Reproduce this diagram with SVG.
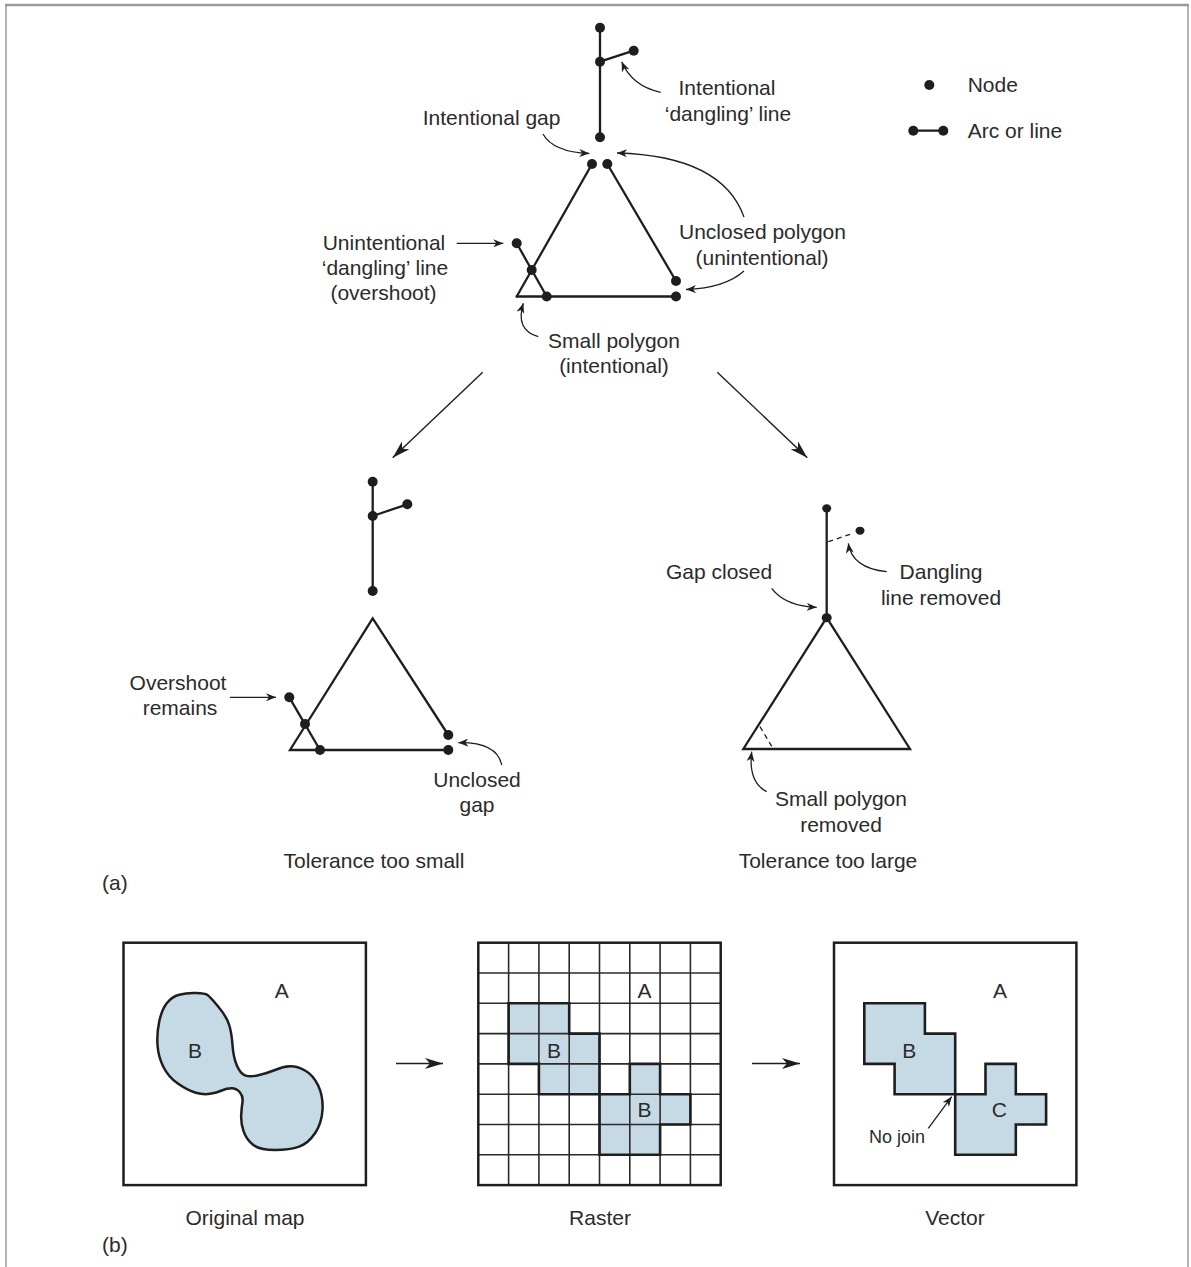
<svg xmlns="http://www.w3.org/2000/svg" width="1191" height="1267" viewBox="0 0 1191 1267">
<defs>
<style>
text{font-family:"Liberation Sans",Arial,sans-serif;font-size:21px;fill:#2b2b2b}
.m{text-anchor:middle}
.ln{stroke:#1e1e1e;stroke-width:2.3;fill:none;stroke-linecap:round}
.nd{fill:#1e1e1e}
.an{stroke:#1e1e1e;stroke-width:1.3;fill:none;marker-end:url(#ah)}
.big{stroke:#1e1e1e;stroke-width:1.4;fill:none;marker-end:url(#ahL)}
.dash{stroke:#1e1e1e;stroke-width:1.3;fill:none;stroke-dasharray:5 4}
.box{stroke:#1e1e1e;stroke-width:2.5;fill:none}
.sh{fill:#c6dae5}
.ol{stroke:#1e1e1e;stroke-width:2.6;fill:none;stroke-linejoin:miter}
.grid{stroke:#2a2a2a;stroke-width:1.6}
.frame{stroke:#9a9a9a;fill:none}
</style>
<marker id="ah" viewBox="0 0 10 8" markerWidth="10" markerHeight="8" refX="10" refY="4" orient="auto" markerUnits="userSpaceOnUse">
<path d="M0,0 L10,4 L0,8 L3,4 z" fill="#1e1e1e"/>
</marker>
<marker id="ahL" viewBox="0 0 18 11" markerWidth="18" markerHeight="11" refX="18" refY="5.5" orient="auto" markerUnits="userSpaceOnUse">
<path d="M0,0 L18,5.5 L0,11 L5,5.5 z" fill="#1e1e1e"/>
</marker>
</defs>
<rect width="1191" height="1267" fill="#ffffff"/>
<g id="frame">
<line class="frame" x1="5" y1="5" x2="1189" y2="5" stroke-width="2.5"/>
<line class="frame" x1="6" y1="5" x2="6" y2="1267" stroke-width="1.5"/>
<line class="frame" x1="1188" y1="5" x2="1188" y2="1267" stroke-width="1.5"/>
</g>

<g id="legend">
<circle class="nd" cx="929.3" cy="85" r="5"/>
<text x="967.7" y="92">Node</text>
<line class="ln" x1="913.3" y1="130.7" x2="943.3" y2="130.7" stroke-width="2"/>
<circle class="nd" cx="913.3" cy="130.7" r="5"/>
<circle class="nd" cx="943.3" cy="130.7" r="5"/>
<text x="967.7" y="138">Arc or line</text>
</g>

<g id="network-original">
<line class="ln" x1="600" y1="27.7" x2="600" y2="137.3"/>
<line class="ln" x1="600" y1="61.7" x2="633.7" y2="50.7"/>
<line class="ln" x1="592" y1="164" x2="516.7" y2="296.5"/>
<line class="ln" x1="516.7" y1="296.5" x2="676" y2="296.5"/>
<line class="ln" x1="607.3" y1="164" x2="676" y2="281"/>
<line class="ln" x1="516.7" y1="243.3" x2="546.7" y2="296.5"/>
<circle class="nd" cx="600" cy="27.7" r="5"/>
<circle class="nd" cx="600" cy="61.7" r="5"/>
<circle class="nd" cx="633.7" cy="50.7" r="5"/>
<circle class="nd" cx="600" cy="137.3" r="5"/>
<circle class="nd" cx="592" cy="164" r="5"/>
<circle class="nd" cx="607.3" cy="164" r="5"/>
<circle class="nd" cx="516.7" cy="243.3" r="5"/>
<circle class="nd" cx="531.7" cy="270" r="5"/>
<circle class="nd" cx="546.7" cy="296.5" r="5"/>
<circle class="nd" cx="676" cy="281" r="5"/>
<circle class="nd" cx="676" cy="296.5" r="5"/>
</g>

<g id="labels-original">
<text x="422.7" y="125">Intentional gap</text>
<text class="m" x="727" y="95">Intentional</text>
<text class="m" x="728" y="121">‘dangling’ line</text>
<text class="m" x="762.5" y="239">Unclosed polygon</text>
<text class="m" x="762" y="265">(unintentional)</text>
<text class="m" x="384" y="250">Unintentional</text>
<text class="m" x="385" y="275">‘dangling’ line</text>
<text class="m" x="383.5" y="300">(overshoot)</text>
<text class="m" x="614" y="348">Small polygon</text>
<text class="m" x="614" y="373">(intentional)</text>
</g>

<g id="network-small">
<line class="ln" x1="372.7" y1="481.7" x2="372.7" y2="591"/>
<line class="ln" x1="372.7" y1="516" x2="407.3" y2="504.3"/>
<path class="ln" d="M448.3,750 L290,750 L372.7,618.3 L448.3,735" stroke-linejoin="miter"/>
<line class="ln" x1="289.3" y1="697.3" x2="320" y2="750"/>
<circle class="nd" cx="372.7" cy="481.7" r="5"/>
<circle class="nd" cx="372.7" cy="516" r="5"/>
<circle class="nd" cx="407.3" cy="504.3" r="5"/>
<circle class="nd" cx="372.7" cy="591" r="5"/>
<circle class="nd" cx="289.3" cy="697.3" r="5"/>
<circle class="nd" cx="305" cy="724" r="5"/>
<circle class="nd" cx="320" cy="750" r="5"/>
<circle class="nd" cx="448.3" cy="735" r="5"/>
<circle class="nd" cx="448.3" cy="750" r="5"/>
</g>

<g id="labels-small">
<text class="m" x="178" y="690">Overshoot</text>
<text class="m" x="180" y="715">remains</text>
<text class="m" x="477" y="787">Unclosed</text>
<text class="m" x="477" y="812">gap</text>
<text class="m" x="374" y="868">Tolerance too small</text>
</g>

<g id="network-large">
<line class="ln" x1="826.7" y1="508.3" x2="826.7" y2="617.7"/>
<line class="dash" x1="828.3" y1="541.7" x2="853.3" y2="533.3"/>
<path class="ln" d="M826.7,617.7 L743.3,749 L910,749 Z" stroke-linejoin="miter"/>
<line class="dash" x1="760" y1="726.7" x2="773.3" y2="749"/>
<ellipse class="nd" cx="826.7" cy="508.3" rx="4.5" ry="4"/>
<ellipse class="nd" cx="860" cy="530.7" rx="4.5" ry="4"/>
<ellipse class="nd" cx="826.7" cy="617.7" rx="5" ry="4.5"/>
</g>

<g id="labels-large">
<text x="666" y="579">Gap closed</text>
<text class="m" x="941" y="579">Dangling</text>
<text class="m" x="941" y="605">line removed</text>
<text class="m" x="841" y="806">Small polygon</text>
<text class="m" x="841" y="832">removed</text>
<text class="m" x="828" y="868">Tolerance too large</text>
</g>

<text id="label-a" x="102" y="890">(a)</text>

<g id="map-original">
<path class="sh" d="M179.2,994.7 Q186.7,992.7 195.85,993 Q205,993.3 207.5,995 Q210,996.7 218.35,1006.7 Q226.7,1016.7 229.2,1025 Q231.7,1033.3 232.5,1045 Q233.3,1056.7 236.65,1065 Q240,1073.3 245,1075.3 Q250,1077.3 258.35,1075.3 Q266.7,1073.3 275,1070 Q283.3,1066.7 290,1066.35 Q296.7,1066 305,1070.5 Q313.3,1075 318.3,1085.85 Q323.3,1096.7 322.5,1110 Q321.7,1123.3 315,1133.3 Q308.3,1143.3 299.15,1146.65 Q290,1150 275,1150 Q260,1150 253.35,1145 Q246.7,1140 243.7,1131.65 Q240.7,1123.3 241.2,1115 Q241.7,1106.7 242.5,1101.7 Q243.3,1096.7 240,1092.5 Q236.7,1088.3 231.7,1088.3 Q226.7,1088.3 221.7,1090.5 Q216.7,1092.7 210,1093.85 Q203.3,1095 195,1092.5 Q186.7,1090 177.5,1083.35 Q168.3,1076.7 163.3,1066.7 Q158.3,1056.7 157.5,1045 Q156.7,1033.3 159.2,1021.65 Q161.7,1010 166.7,1003.35 Q171.7,996.7 179.2,994.7 Z" stroke="#1e1e1e" stroke-width="2.5"/>
<rect class="box" x="123.5" y="942.7" width="242.4" height="242.4"/>
<text class="m" x="281.7" y="997.5">A</text>
<text class="m" x="195" y="1057.5">B</text>
<text class="m" x="245" y="1225">Original map</text>
</g>

<g id="map-raster">
<polygon class="sh" points="508.6,1003.3 569.2,1003.3 569.2,1033.6 599.5,1033.6 599.5,1094.2 538.9,1094.2 538.9,1063.9 508.6,1063.9"/>
<polygon class="sh" points="629.8,1063.9 660.1,1063.9 660.1,1094.2 690.4,1094.2 690.4,1124.5 660.1,1124.5 660.1,1154.8 599.5,1154.8 599.5,1094.2 629.8,1094.2"/>
<g class="grid">
<line x1="508.6" y1="942.7" x2="508.6" y2="1185.1"/>
<line x1="538.9" y1="942.7" x2="538.9" y2="1185.1"/>
<line x1="569.2" y1="942.7" x2="569.2" y2="1185.1"/>
<line x1="599.5" y1="942.7" x2="599.5" y2="1185.1"/>
<line x1="629.8" y1="942.7" x2="629.8" y2="1185.1"/>
<line x1="660.1" y1="942.7" x2="660.1" y2="1185.1"/>
<line x1="690.4" y1="942.7" x2="690.4" y2="1185.1"/>
<line x1="478.3" y1="973" x2="720.7" y2="973"/>
<line x1="478.3" y1="1003.3" x2="720.7" y2="1003.3"/>
<line x1="478.3" y1="1033.6" x2="720.7" y2="1033.6"/>
<line x1="478.3" y1="1063.9" x2="720.7" y2="1063.9"/>
<line x1="478.3" y1="1094.2" x2="720.7" y2="1094.2"/>
<line x1="478.3" y1="1124.5" x2="720.7" y2="1124.5"/>
<line x1="478.3" y1="1154.8" x2="720.7" y2="1154.8"/>
</g>
<polygon class="ol" points="508.6,1003.3 569.2,1003.3 569.2,1033.6 599.5,1033.6 599.5,1094.2 538.9,1094.2 538.9,1063.9 508.6,1063.9"/>
<polygon class="ol" points="629.8,1063.9 660.1,1063.9 660.1,1094.2 690.4,1094.2 690.4,1124.5 660.1,1124.5 660.1,1154.8 599.5,1154.8 599.5,1094.2 629.8,1094.2"/>
<rect class="box" x="478.3" y="942.7" width="242.4" height="242.4"/>
<text class="m" x="644.5" y="997.5">A</text>
<text class="m" x="554" y="1057.5">B</text>
<text class="m" x="644.5" y="1117">B</text>
<text class="m" x="600" y="1225">Raster</text>
</g>

<g id="map-vector">
<polygon class="sh" points="864.3,1003.3 924.9,1003.3 924.9,1033.6 955.2,1033.6 955.2,1094.2 894.6,1094.2 894.6,1063.9 864.3,1063.9"/>
<polygon class="sh" points="985.5,1063.9 1015.8,1063.9 1015.8,1094.2 1046.1,1094.2 1046.1,1124.5 1015.8,1124.5 1015.8,1154.8 955.2,1154.8 955.2,1094.2 985.5,1094.2"/>
<polygon class="ol" points="864.3,1003.3 924.9,1003.3 924.9,1033.6 955.2,1033.6 955.2,1094.2 894.6,1094.2 894.6,1063.9 864.3,1063.9"/>
<polygon class="ol" points="985.5,1063.9 1015.8,1063.9 1015.8,1094.2 1046.1,1094.2 1046.1,1124.5 1015.8,1124.5 1015.8,1154.8 955.2,1154.8 955.2,1094.2 985.5,1094.2"/>
<rect class="box" x="834" y="942.7" width="242.4" height="242.4"/>
<text class="m" x="1000" y="997.5">A</text>
<text class="m" x="909.3" y="1057.5">B</text>
<text class="m" x="999.3" y="1117">C</text>
<text x="869" y="1143" style="font-size:18px">No join</text>
<text class="m" x="955" y="1225">Vector</text>
</g>

<text id="label-b" x="102" y="1252">(b)</text>

<g id="connectors">
<path class="an" d="M543,134 Q553,152 589.3,153.5"/>
<path class="an" d="M660.7,92.3 Q632,86 621.7,61.7"/>
<path class="an" d="M744,217 C730,178 690,155 617,153"/>
<path class="an" d="M744,271 Q725,288 686,289.5"/>
<path class="an" d="M456.7,243.3 L503.3,243.3"/>
<path class="an" d="M538.3,336.7 Q515,330 523.3,303.3"/>
<path class="big" d="M482.7,372.3 L392.7,457.7"/>
<path class="big" d="M717.3,372.3 L807.3,457.7"/>
<path class="an" d="M230,697.3 L276,697.3"/>
<path class="an" d="M501.7,765 Q497,742 458.3,742.7"/>
<path class="an" d="M771.7,588.3 Q785,606 816.7,607.3"/>
<path class="an" d="M886.7,571.7 Q852,568 848.3,543.3"/>
<path class="an" d="M766.7,791.7 Q748,782 751.7,751.7"/>
<path class="an" d="M928.3,1128.3 L951.7,1096.7"/>
<path class="an" d="M396,1063.5 L443,1063.5" style="marker-end:url(#ahL)"/>
<path class="an" d="M752,1063.5 L800,1063.5" style="marker-end:url(#ahL)"/>
</g>
</svg>
